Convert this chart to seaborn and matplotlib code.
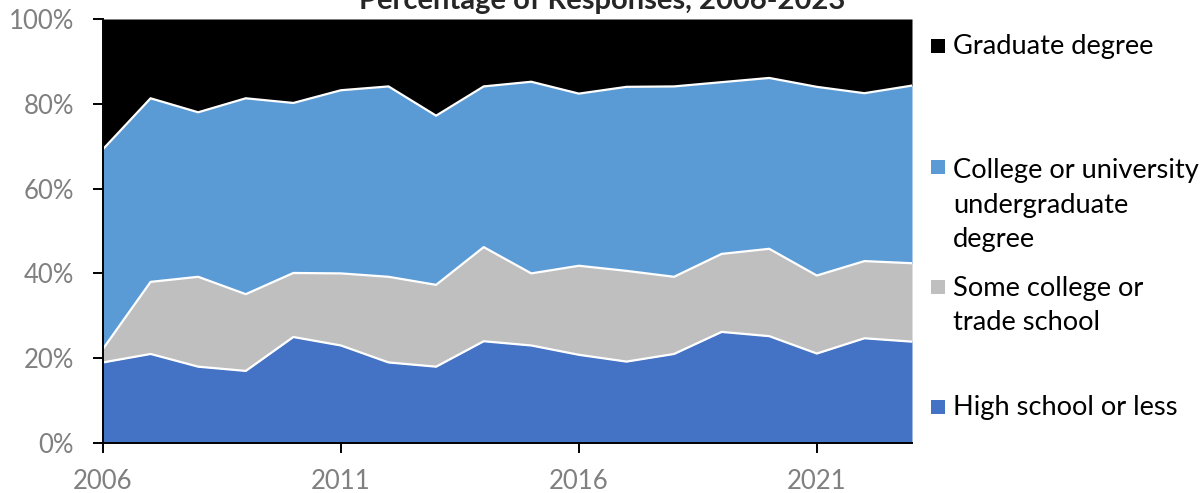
import numpy as np
import pandas as pd
import matplotlib
matplotlib.use("Agg")
import matplotlib.pyplot as plt
from matplotlib.patches import Rectangle
import seaborn as sns

years = list(range(2006, 2024))

# cumulative tops (percent)
top_high_school = [19, 21, 18, 17, 25, 23, 19, 18, 24, 23, 20.8, 19.2, 21, 26.2, 25.2, 21.1, 24.7, 23.9]
top_some_college = [22.2, 38, 39.2, 35.1, 40.1, 40, 39.2, 37.3, 46.2, 40, 41.8, 40.6, 39.2, 44.6, 45.8, 39.5, 42.9, 42.4]
top_undergrad = [69.3, 81.3, 78, 81.3, 80.2, 83.2, 84.1, 77.2, 84.1, 85.2, 82.4, 84, 84.1, 85.1, 86.1, 84, 82.5, 84.3]

labels = ["High school or less", "Some college or\ntrade school",
          "College or university\nundergraduate\ndegree", "Graduate degree"]
colors = ["#4472C4", "#BFBFBF", "#5B9BD5", "#000000"]

tops = pd.DataFrame({
    "year": years,
    "hs": top_high_school,
    "some": top_some_college,
    "ug": top_undergrad,
})
shares = pd.DataFrame({
    "year": years,
    labels[0]: tops["hs"],
    labels[1]: tops["some"] - tops["hs"],
    labels[2]: tops["ug"] - tops["some"],
    labels[3]: 100 - tops["ug"],
})

sns.set_theme(style="white")
plt.rcParams["font.family"] = ["Lato", "DejaVu Sans"]

W, H = 1204, 493
fig = plt.figure(figsize=(W / 100, H / 100), dpi=100)
ax = fig.add_axes([103 / W, 1 - 443 / H, 809 / W, 424 / H])

ax.stackplot(shares["year"], *[shares[l] for l in labels], colors=colors, linewidth=0)
for col in ["hs", "some", "ug"]:
    sns.lineplot(data=tops, x="year", y=col, ax=ax, color="white", linewidth=1.6)

ax.set_xlim(2006, 2023)
ax.set_ylim(0, 100)
ax.set_xticks([2006, 2011, 2016, 2021])
ax.set_yticks(range(0, 101, 20))
ax.set_yticklabels([f"{v}%" for v in range(0, 101, 20)])
ax.set_xlabel("")
ax.set_ylabel("")
for s in ["top", "right"]:
    ax.spines[s].set_visible(False)
for s in ["left", "bottom"]:
    ax.spines[s].set_color("black")
    ax.spines[s].set_linewidth(1.4)
    ax.spines[s].set_zorder(5)
ax.tick_params(axis="both", direction="out", length=7, width=1.4, color="black",
               labelsize=18.5, labelcolor="#808080")
ax.tick_params(axis="y", left=True, pad=14)
ax.tick_params(axis="x", bottom=True, pad=12)

fig.text(0.5, 1 - 9 / H, "Percentage of Responses, 2006-2023", ha="center",
         va="baseline", fontsize=21, fontweight="bold")

# legend drawn by hand: evenly spaced slots, marker beside the first line
marker_base = [54, 175, 295, 415]
text_last_base = [54, 247, 330, 415]
order = [3, 2, 1, 0]
for yb, yt, i in zip(marker_base, text_last_base, order):
    fig.add_artist(Rectangle((931 / W, 1 - (yb - 1) / H), 14 / W, 14 / H,
                             transform=fig.transFigure, facecolor=colors[i],
                             edgecolor="none"))
    fig.text(953 / W, 1 - yt / H, labels[i], ha="left", va="baseline",
             fontsize=19.6, linespacing=1.47, color="black")

fig.savefig("out.png", dpi=100)
